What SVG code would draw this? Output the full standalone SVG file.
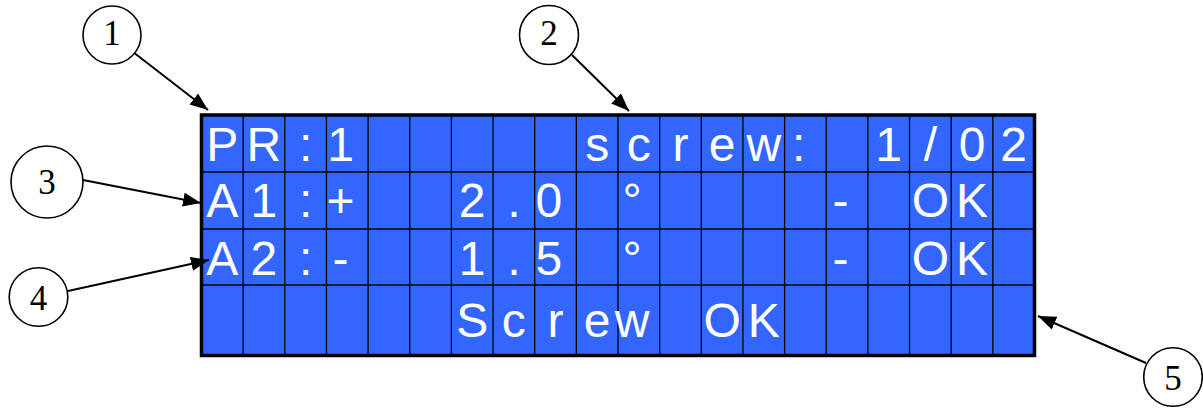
<svg xmlns="http://www.w3.org/2000/svg" width="1203" height="408" viewBox="0 0 1203 408">
<style>
.lcd{fill:#3366FF;stroke:#000;stroke-width:3.5}
.grid line{stroke:#000;stroke-width:1.3}
.ch{font-family:"Liberation Sans",Arial,sans-serif;font-size:48px;fill:#fff;text-anchor:middle}
.callout circle{fill:#fff;stroke:#000;stroke-width:1.6}
.callout text{font-family:"Liberation Serif","Times New Roman",serif;font-size:35px;fill:#000;text-anchor:middle}
.conn line{stroke:#000;stroke-width:2;marker-end:url(#ah)}
</style>
<defs>
<marker id="ah" viewBox="0 0 18 14" refX="18" refY="7" markerWidth="18" markerHeight="14" markerUnits="userSpaceOnUse" orient="auto">
<path d="M0,0 L18,7 L0,14 z" fill="#000"/>
</marker>
</defs>
<rect width="1203" height="408" fill="#fff"/>
<g id="lcd">
<rect class="lcd" x="201.5" y="115" width="833" height="240.5"/>
<g class="grid">
<line x1="201.5" y1="172" x2="1034.5" y2="172"/>
<line x1="201.5" y1="229" x2="1034.5" y2="229"/>
<line x1="201.5" y1="285" x2="1034.5" y2="285"/>
<line x1="243.15" y1="115" x2="243.15" y2="355.5"/>
<line x1="284.8" y1="115" x2="284.8" y2="355.5"/>
<line x1="326.45" y1="115" x2="326.45" y2="355.5"/>
<line x1="368.1" y1="115" x2="368.1" y2="355.5"/>
<line x1="409.75" y1="115" x2="409.75" y2="355.5"/>
<line x1="451.4" y1="115" x2="451.4" y2="355.5"/>
<line x1="493.05" y1="115" x2="493.05" y2="355.5"/>
<line x1="534.7" y1="115" x2="534.7" y2="355.5"/>
<line x1="576.35" y1="115" x2="576.35" y2="355.5"/>
<line x1="618" y1="115" x2="618" y2="355.5"/>
<line x1="659.65" y1="115" x2="659.65" y2="355.5"/>
<line x1="701.3" y1="115" x2="701.3" y2="355.5"/>
<line x1="742.95" y1="115" x2="742.95" y2="355.5"/>
<line x1="784.6" y1="115" x2="784.6" y2="355.5"/>
<line x1="826.25" y1="115" x2="826.25" y2="355.5"/>
<line x1="867.9" y1="115" x2="867.9" y2="355.5"/>
<line x1="909.55" y1="115" x2="909.55" y2="355.5"/>
<line x1="951.2" y1="115" x2="951.2" y2="355.5"/>
<line x1="992.85" y1="115" x2="992.85" y2="355.5"/>
</g>
<text class="ch" y="161"><tspan x="222.3 263.95 305.6 347.25">PR:1</tspan> <tspan x="597.2 638.85 680.5 722.15 763.8 805.45">screw:</tspan> <tspan x="888.7 930.35 972 1013.65">1/02</tspan></text>
<text class="ch" y="217"><tspan x="222.3 263.95 305.6 347.25">A1:+</tspan> <tspan x="472.2 513.85 555.5">2.0</tspan> <tspan x="638.85">°</tspan> <tspan x="847.05">-</tspan> <tspan x="930.35 972">OK</tspan></text>
<text class="ch" y="275"><tspan x="222.3 263.95 305.6 347.25">A2:-</tspan> <tspan x="472.2 513.85 555.5">1.5</tspan> <tspan x="638.85">°</tspan> <tspan x="847.05">-</tspan> <tspan x="930.35 972">OK</tspan></text>
<text class="ch" y="337"><tspan x="472.2 513.85 555.5 597.2 638.85">Screw</tspan> <tspan x="722.15 763.8">OK</tspan></text>
</g>
<g class="conn">
<line x1="133" y1="52" x2="208" y2="110"/>
<line x1="572" y1="55" x2="629" y2="111"/>
<line x1="83" y1="180" x2="201" y2="203"/>
<line x1="68" y1="291" x2="209" y2="260"/>
<line x1="1146" y1="363" x2="1038" y2="316"/>
</g>
<g id="c1" class="callout"><circle cx="112" cy="35" r="29"/><text x="112" y="45">1</text></g>
<g id="c2" class="callout"><circle cx="549" cy="35" r="29.5"/><text x="549" y="45">2</text></g>
<g id="c3" class="callout"><circle cx="47" cy="182" r="36"/><text x="47" y="194">3</text></g>
<g id="c4" class="callout"><circle cx="38.5" cy="297" r="29.3"/><text x="38.5" y="310">4</text></g>
<g id="c5" class="callout"><circle cx="1173" cy="377" r="29.3"/><text x="1173" y="390">5</text></g>
</svg>
